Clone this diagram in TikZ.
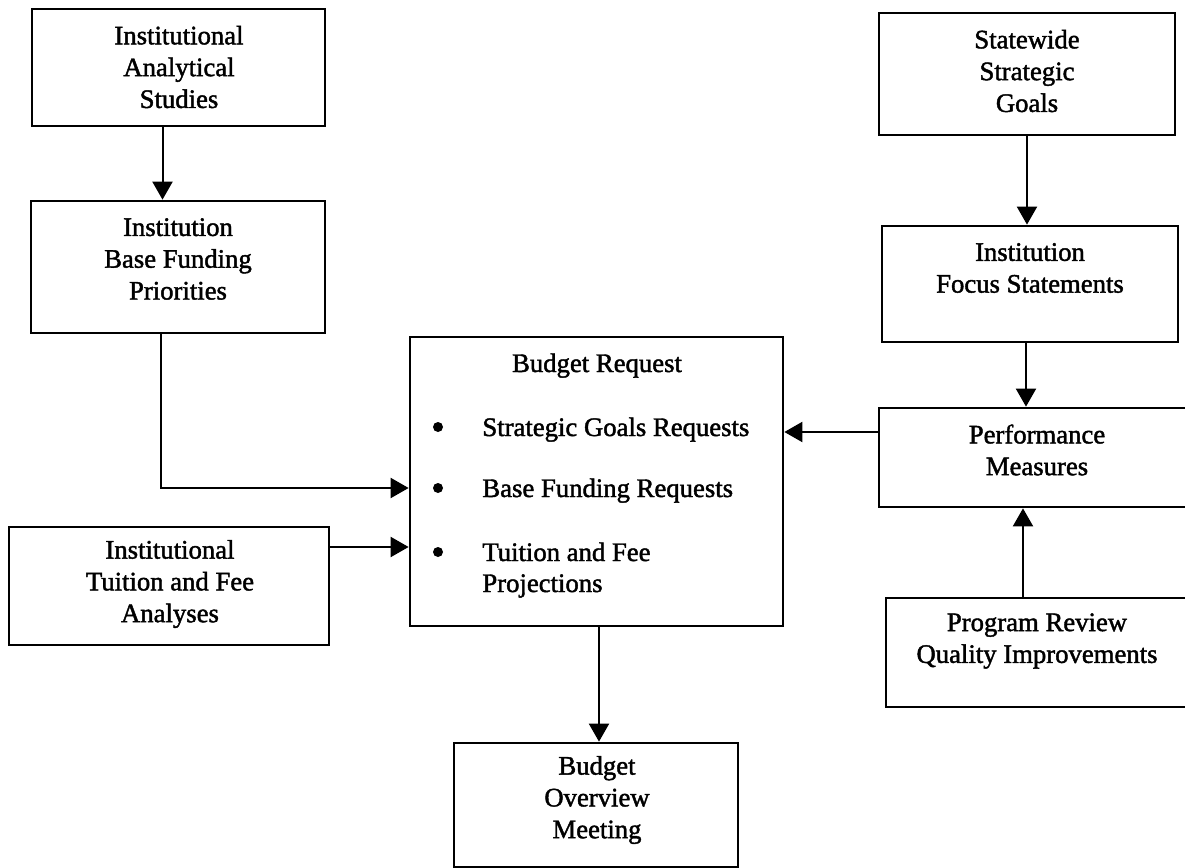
\documentclass[tikz,border=0pt]{standalone}
\usepackage{fontspec}
\setmainfont[FakeBold=1.6]{Liberation Serif}
\usetikzlibrary{arrows.meta}
\begin{document}
\begin{tikzpicture}[x=0.5pt, y=-0.5pt,
  box/.style={draw, line width=1.35pt, inner sep=0pt},
  txt/.style={align=center, inner sep=0pt},
  item/.style={anchor=base west, inner sep=0pt},
  dot/.style={circle, fill, inner sep=0pt, minimum size=5pt},
  arr/.style={line width=1pt, -{Triangle[length=9pt, width=10pt]}}]
\useasboundingbox (0,0) rectangle (1185,868);
\fill[white] (0,0) rectangle (1185,868);
\clip (0,0) rectangle (1185,868);
\fontsize{13.35pt}{15.9pt}\selectfont

% boxes
\node[box, minimum width=146.5pt, minimum height=58.5pt] (ias) at (178.5,67.5) {};
\node[box, minimum width=147pt,   minimum height=66pt]   (bfp) at (178,267) {};
\node[box, minimum width=148pt,   minimum height=61pt]   (ssg) at (1027,74) {};
\node[box, minimum width=148pt,   minimum height=58pt]   (ifs) at (1030,284) {};
\node[box, minimum width=186.5pt, minimum height=144.5pt] (br) at (596.5,481.5) {};
\node[box, minimum width=158pt,   minimum height=49.5pt] (pm)  at (1037,457.5) {};
\node[box, minimum width=151pt,   minimum height=54.5pt] (prq) at (1037,652.5) {};
\node[box, minimum width=160pt,   minimum height=59pt]   (tfa) at (169,586) {};
\node[box, minimum width=142pt,   minimum height=62pt]   (bom) at (596,805) {};

% box texts
\node[txt] (iast) at (179,67) {Institutional\\Analytical\\Studies};
\node[txt] (bfpt) at (178,259) {Institution\\Base Funding\\Priorities};
\node[txt] (ssgt) at (1027,71) {Statewide\\Strategic\\Goals};
\node[txt] (ifst) at (1030,268) {Institution\\Focus Statements};
\node[txt] (pmt)  at (1037,450) {Performance\\Measures};
\node[txt] (prqt) at (1037,641) {Program Review\\Quality Improvements};
\node[txt] (tfat) at (170,584) {Institutional\\Tuition and Fee\\Analyses};
\node[txt] (bomt) at (597,800) {Budget\\Overview\\Meeting};

% budget request contents
\node[dot] (b1) at (438,427) {};
\node[dot] (b2) at (438,488) {};
\node[dot] (b3) at (438,552) {};
\node[anchor=base, inner sep=0pt] (brt) at (597,372) {Budget Request};
\node[item] (i1) at (482,436) {Strategic Goals Requests};
\node[item] (i2) at (482,497) {Base Funding Requests};
\node[item] (i3) at (482,561) {Tuition and Fee};
\node[item] (i4) at (482,592) {Projections};

% connectors
\coordinate (a1) at ([xshift=-8pt]ias.south);
\draw[arr] (a1) -- (a1 |- bfp.north);

\coordinate (a2) at ([xshift=-8.5pt]bfp.south);
\coordinate (a2in) at ([yshift=-3.25pt]br.west);
\draw[arr] (a2) |- (a2in);

\coordinate (a3) at ([yshift=19.5pt]tfa.east);
\draw[arr] (a3) -- (a3 -| br.west);

\draw[arr] (ssg.south) -- (ssg.south |- ifs.north);

\coordinate (a5) at ([xshift=-2pt]ifs.south);
\draw[arr] (a5) -- (a5 |- pm.north);

\coordinate (a6) at ([xshift=-7pt]prq.north);
\draw[arr] (a6) -- (a6 |- pm.south);

\coordinate (a7) at ([yshift=12.75pt]pm.west);
\draw[arr] (a7) -- (a7 -| br.east);

\coordinate (a8) at ([xshift=1.25pt]br.south);
\draw[arr] (a8) -- (a8 |- bom.north);
\end{tikzpicture}
\end{document}
